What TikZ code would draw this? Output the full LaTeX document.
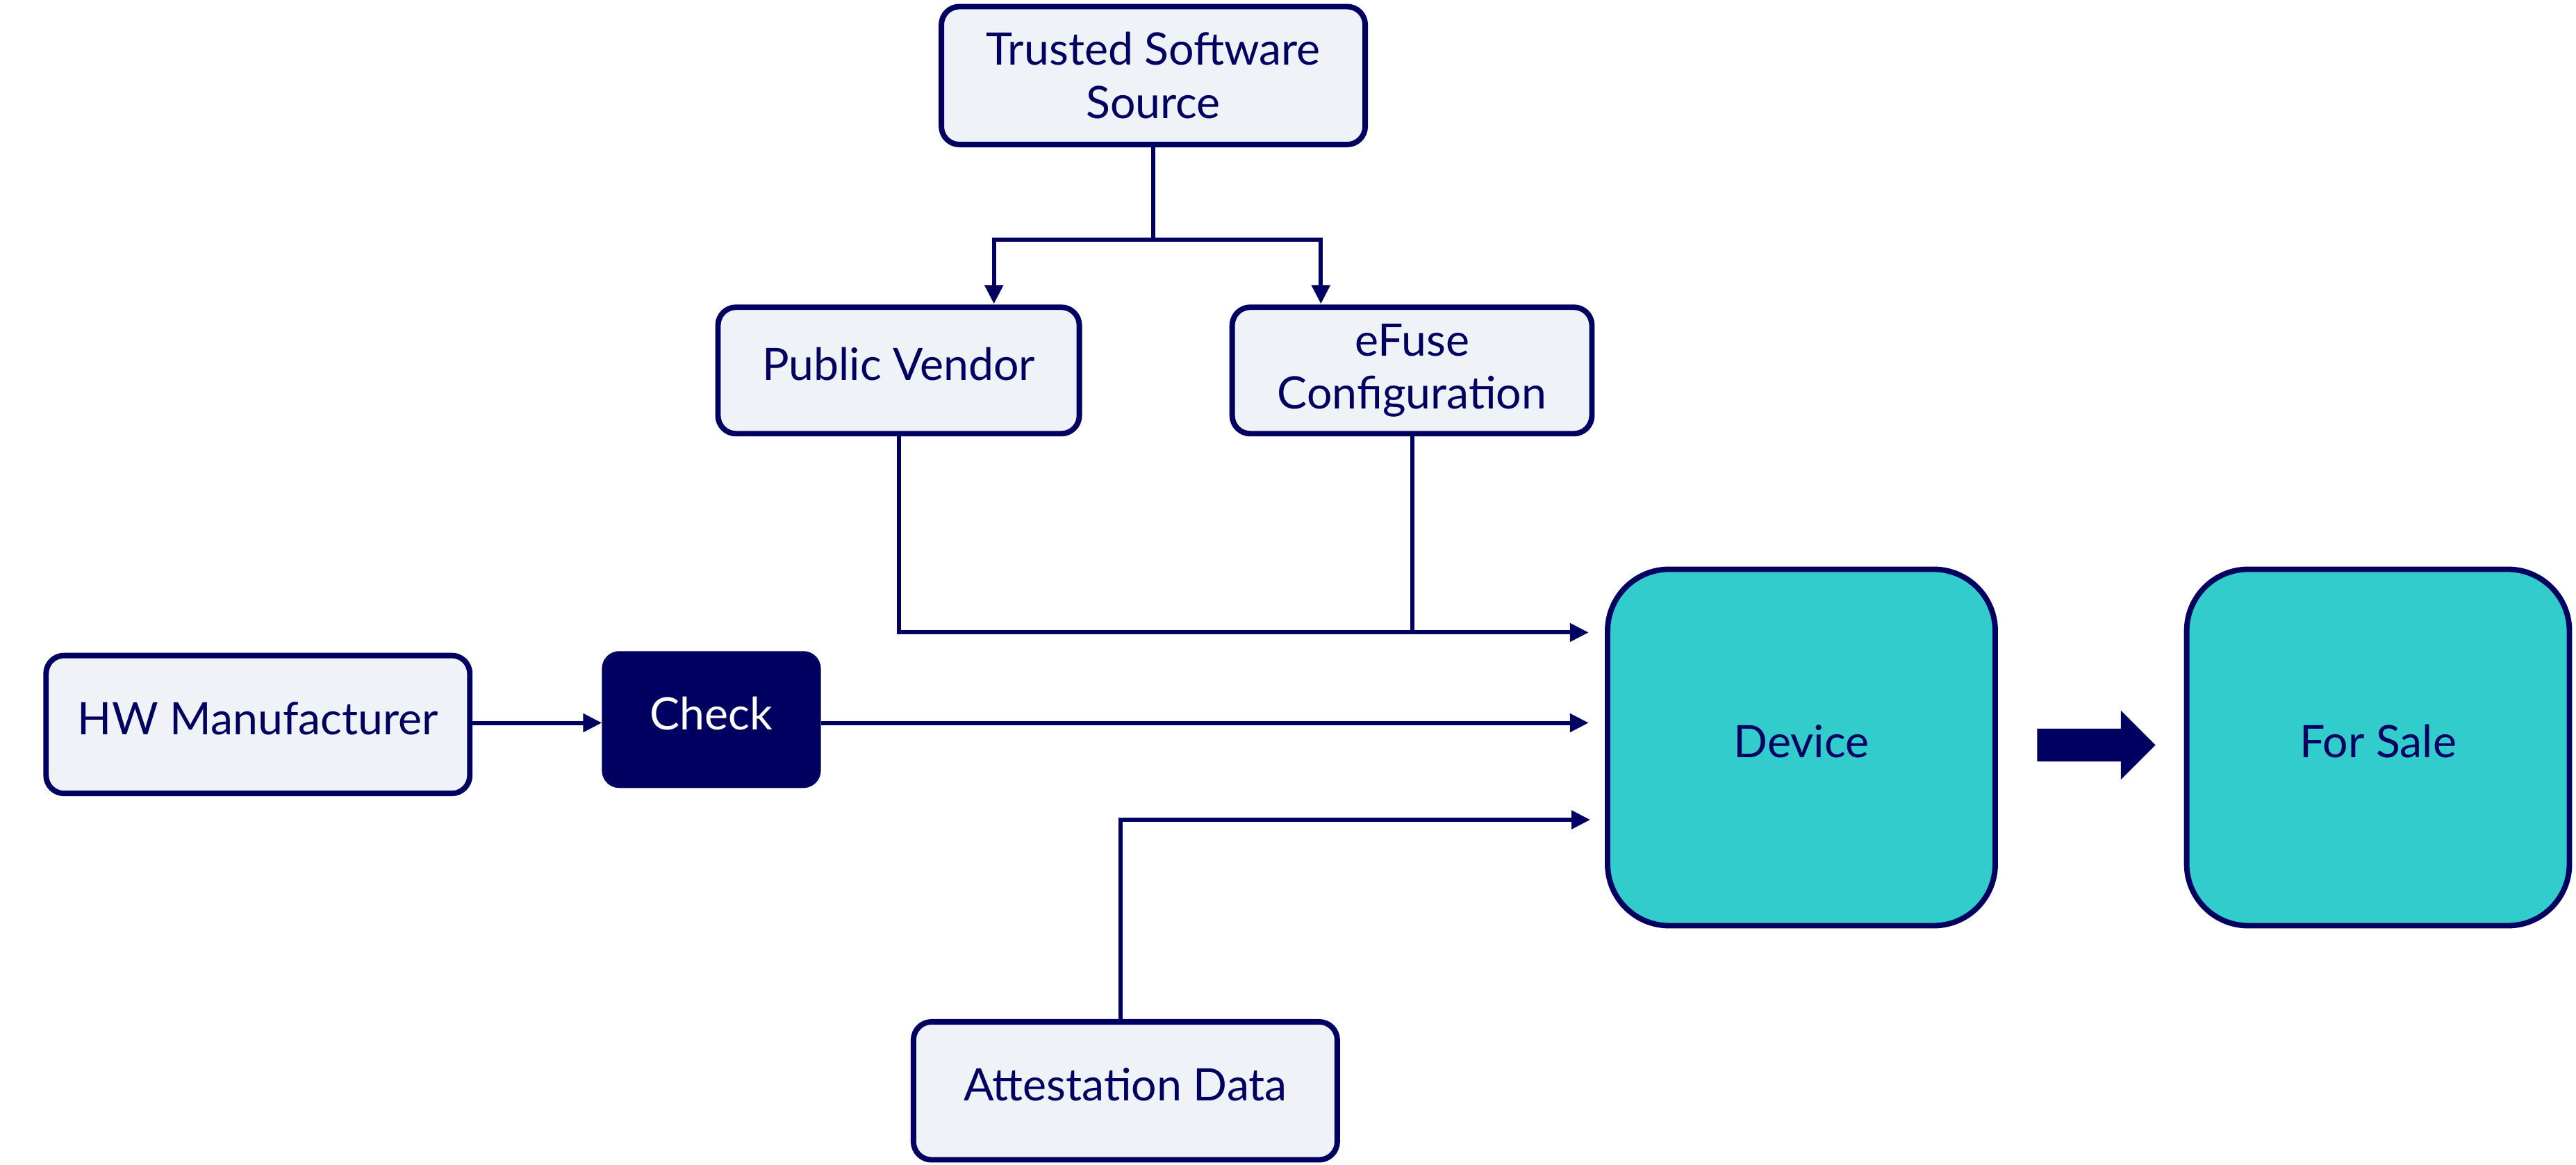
\documentclass[tikz,border=0pt]{standalone}
\usepackage{fontspec}
\setmainfont{Lato}
\usetikzlibrary{arrows.meta}
\definecolor{navy}{RGB}{0,0,96}
\definecolor{teal}{RGB}{51,204,204}
\definecolor{lightbox}{RGB}{239,242,246}
\tikzset{
  lbox/.style={draw=navy, fill=lightbox, line width=1.9pt, rounded corners=0.22cm, align=center,
    text=navy, font=\fontsize{15.5}{18.5}\selectfont, inner sep=0pt},
  tbox/.style={draw=navy, fill=teal, line width=1.9pt, rounded corners=0.75cm, align=center,
    text=navy, font=\fontsize{15.5}{18.5}\selectfont, inner sep=0pt, minimum width=4.72cm, minimum height=4.34cm},
  cbox/.style={draw=navy, fill=navy, line width=1.9pt, rounded corners=0.18cm, align=center,
    text=white, font=\fontsize{15.5}{18.5}\selectfont, inner sep=0pt},
  oneline/.style={text depth=4.4pt},
  conn/.style={draw=navy, line width=1.45pt},
  arr/.style={conn, -{Triangle[length=6.5pt,width=6.2pt]}},
}
\begin{document}
\begin{tikzpicture}[x=0.02cm,y=-0.02cm]
\useasboundingbox (0,0) rectangle (1568,709);
\node[lbox, minimum width=5.16cm, minimum height=1.68cm] (trusted) at (702,46) {Trusted Software\\Source};
\node[lbox, oneline, minimum width=4.40cm, minimum height=1.54cm] (pv) at (547,225.5) {Public Vendor};
\node[lbox, minimum width=4.38cm, minimum height=1.54cm] (efuse) at (859.5,225.5) {eFuse\\Configuration};
\node[lbox, oneline, minimum width=5.16cm, minimum height=1.68cm] (hw) at (157,441) {HW Manufacturer};
\node[cbox, oneline, minimum width=2.60cm, minimum height=1.60cm] (check) at (433,438) {Check};
\node[tbox, oneline] (device) at (1096.5,455) {Device};
\node[tbox, oneline, minimum width=4.66cm] (sale) at (1447.5,455) {For Sale};
\node[lbox, oneline, minimum width=5.16cm, minimum height=1.68cm] (att) at (685,664) {Attestation Data};

\coordinate (split) at (702,146);
\coordinate (pvin) at (605,185);
\coordinate (efin) at (804,185);
\coordinate (dev1) at (967,385);
\coordinate (dev2) at (967,440);
\coordinate (dev3) at (968,499);
\coordinate (attout) at (682,621);

\draw[conn] (trusted.south) -- (split);
\draw[arr] (split) -| (pvin);
\draw[arr] (split) -| (efin);
\draw[arr] (pv.south) |- (dev1);
\draw[conn] (efuse.south) -- (efuse.south |- dev1);
\draw[arr] (hw.east |- dev2) -- (check.west |- dev2);
\draw[arr] (check.east |- dev2) -- (dev2);
\draw[arr] (attout) |- (dev3);

\fill[navy] (1240,443.5) -- (1291,443.5) -- (1291,432.5) -- (1312,453.5) -- (1291,474.5) -- (1291,463.5) -- (1240,463.5) -- cycle;
\end{tikzpicture}
\end{document}
